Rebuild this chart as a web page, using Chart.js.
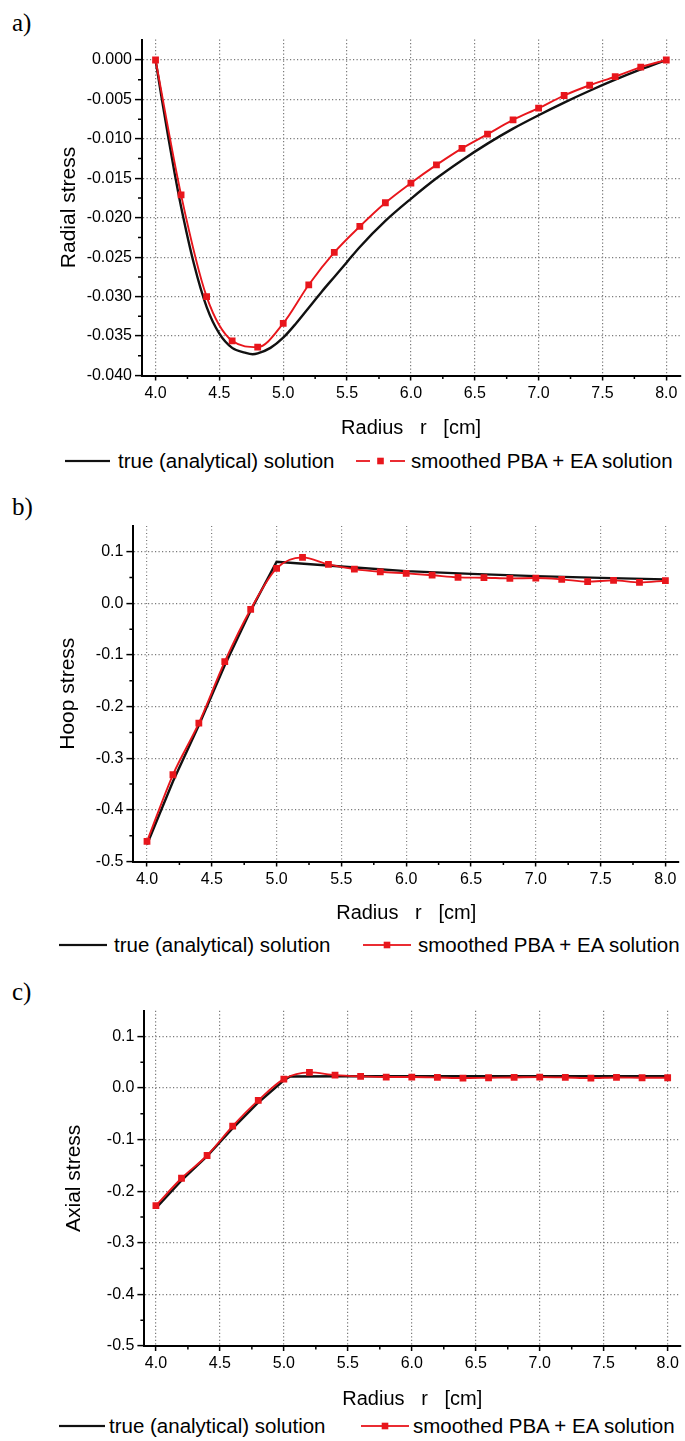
<!DOCTYPE html>
<html>
<head>
<meta charset="utf-8">
<title>Radial, hoop and axial stress</title>
<script src="https://cdn.jsdelivr.net/npm/chart.js@4.4.1/dist/chart.umd.min.js"></script>
<style>
  html, body { margin: 0; padding: 0; background: #fff; }
  body { position: relative; width: 685px; height: 1441px; overflow: hidden; font-family: "Liberation Sans", Arial, sans-serif; color: #000; }
  .plot { position: absolute; left: 0; width: 685px; }
  .tag { position: absolute; left: 12px; font-family: "Liberation Serif", "DejaVu Serif", serif; font-size: 25px; line-height: 26px; }
  .key { position: absolute; font-size: 20.5px; line-height: 24px; white-space: nowrap; }
  .swatch { position: absolute; }
</style>
</head>
<body>
<div class="tag" style="top:10px">a)</div>
<div class="plot" style="top:0;height:440px"><canvas id="radialChart"></canvas></div>

<div class="tag" style="top:494px">b)</div>
<div class="plot" style="top:480px;height:445px"><canvas id="hoopChart"></canvas></div>

<div class="tag" style="top:979px">c)</div>
<div class="plot" style="top:970px;height:441px"><canvas id="axialChart"></canvas></div>

<script>
// radius of the PBA + EA sample points (same for all three panels)
const radius = [4.0, 4.2, 4.4, 4.6, 4.8, 5.0, 5.2, 5.4, 5.6, 5.8, 6.0, 6.2, 6.4, 6.6, 6.8, 7.0, 7.2, 7.4, 7.6, 7.8, 8.0];

// a) radial stress
const radialPBA = [0, -0.0171, -0.0300, -0.0356, -0.0364, -0.0334, -0.0285, -0.0244, -0.0211, -0.0181, -0.0156,
                   -0.0133, -0.0112, -0.0094, -0.0076, -0.0061, -0.0045, -0.0032, -0.0021, -0.0009, 0];
const radialTrueR = [4.0, 4.05, 4.1, 4.15, 4.2, 4.3, 4.4, 4.5, 4.6, 4.7, 4.76, 4.8, 4.9, 5.0, 5.1, 5.2, 5.3, 5.4, 5.5,
                     5.6, 5.8, 6.0, 6.2, 6.4, 6.6, 6.8, 7.0, 7.2, 7.4, 7.6, 7.8, 8.0];
const radialTrue = [0, -0.0050, -0.0098, -0.0144, -0.0186, -0.0258, -0.0313, -0.0347, -0.0365, -0.0371, -0.0373,
                    -0.0372, -0.0365, -0.0352, -0.0334, -0.0314, -0.0294, -0.0275, -0.0256, -0.0237, -0.0204,
                    -0.0176, -0.0150, -0.0127, -0.0106, -0.0087, -0.0070, -0.0054, -0.0039, -0.0025, -0.0012, 0];

// b) hoop stress
const hoopPBA = [-0.461, -0.332, -0.232, -0.113, -0.0116, 0.0677, 0.0890, 0.0754, 0.0663, 0.0611, 0.0580,
                 0.0545, 0.0503, 0.0497, 0.0484, 0.0490, 0.0465, 0.0420, 0.0445, 0.0406, 0.0439];
const hoopTrueR = [4.0, 4.2, 4.4, 4.6, 4.8, 5.0, 5.5, 6.0, 6.5, 7.0, 7.5, 8.0];
const hoopTrue = [-0.467, -0.345, -0.236, -0.120, -0.014, 0.0806, 0.0715, 0.0625, 0.0570, 0.0528, 0.0494, 0.0465];

// c) axial stress
const axialPBA = [-0.2278, -0.1748, -0.1307, -0.0738, -0.0239, 0.0175, 0.0304, 0.0252, 0.0227, 0.0214, 0.0214,
                  0.0206, 0.0194, 0.0200, 0.0206, 0.0213, 0.0206, 0.0194, 0.0206, 0.0200, 0.0200];
const axialTrueR = [4.0, 4.2, 4.4, 4.6, 4.8, 5.0, 5.05, 5.5, 8.0];
const axialTrue = [-0.233, -0.179, -0.132, -0.078, -0.028, 0.015, 0.0225, 0.0228, 0.0228];

// tick values
const xTicks = [4.0, 4.5, 5.0, 5.5, 6.0, 6.5, 7.0, 7.5, 8.0];
const radialTicks = [0, -0.005, -0.010, -0.015, -0.020, -0.025, -0.030, -0.035, -0.040];
const stressTicks = [0.1, 0.0, -0.1, -0.2, -0.3, -0.4, -0.5];

const RED = '#e8161c';
const GRID = '#7a7a7a';
const FONT = '"Liberation Sans", Arial, sans-serif';

const toPoints = (xs, ys) => xs.map((x, i) => ({ x: x, y: ys[i] }));

// small ticks half way between the labelled ones
const minorTicks = {
    id: 'minorTicks',
    afterDraw(chart) {
        const { ctx, scales: { x, y } } = chart;
        ctx.save();
        ctx.strokeStyle = '#000';
        ctx.lineWidth = 1.5;
        ctx.beginPath();
        for (let i = 0; i < x.ticks.length - 1; i++) {
            const px = x.getPixelForValue((x.ticks[i].value + x.ticks[i + 1].value) / 2);
            ctx.moveTo(px, x.top);
            ctx.lineTo(px, x.top + 3.5);
        }
        for (let i = 0; i < y.ticks.length - 1; i++) {
            const py = y.getPixelForValue((y.ticks[i].value + y.ticks[i + 1].value) / 2);
            ctx.moveTo(y.right, py);
            ctx.lineTo(y.right - 4, py);
        }
        ctx.stroke();
        ctx.restore();
    }
};

function makeChart(id, cfg) {
    return new Chart(document.getElementById(id), {
        type: 'line',
        data: {
            datasets: [
                {
                    label: 'smoothed PBA + EA solution',
                    data: toPoints(radius, cfg.pba),
                    borderColor: RED,
                    backgroundColor: RED,
                    borderWidth: 1.9,
                    pointStyle: 'rect',
                    pointRadius: 4.8,
                    pointBorderWidth: 0,
                    pointBackgroundColor: RED,
                    cubicInterpolationMode: 'monotone',
                    order: 1
                },
                {
                    label: 'true (analytical) solution',
                    data: toPoints(cfg.trueR, cfg.trueV),
                    borderColor: '#111',
                    borderWidth: 2.4,
                    pointRadius: 0,
                    tension: 0,
                    cubicInterpolationMode: cfg.smoothTrue ? 'monotone' : 'default',
                    order: 2
                }
            ]
        },
        options: {
            animation: false,
            responsive: true,
            maintainAspectRatio: false,
            layout: { padding: { top: cfg.padTop, right: cfg.padRight, left: 0, bottom: 0 } },
            plugins: { legend: { display: false }, tooltip: { enabled: false } },
            scales: {
                x: {
                    type: 'linear',
                    bounds: 'data',
                    min: cfg.xMin,
                    max: cfg.xMax,
                    afterBuildTicks: s => { s.ticks = xTicks.map(v => ({ value: v })); },
                    afterFit: s => { s.height = cfg.xHeight; },
                    ticks: {
                        callback: v => v.toFixed(1),
                        font: { family: FONT, size: 16 },
                        color: '#000',
                        padding: 3,
                        maxRotation: 0,
                        autoSkip: false
                    },
                    grid: { color: GRID, lineWidth: 1.2, tickColor: '#000', tickLength: 5, tickWidth: 1.5 },
                    border: { color: '#000', width: 2, dash: [1.2, 2.3] },
                    title: {
                        display: true,
                        text: 'Radius   r   [cm]',
                        font: { family: FONT, size: 20 },
                        color: '#000',
                        padding: { top: 0, bottom: 0 }
                    }
                },
                y: {
                    type: 'linear',
                    bounds: 'data',
                    min: cfg.yMin,
                    max: cfg.yMax,
                    afterBuildTicks: s => { s.ticks = cfg.yTicks.map(v => ({ value: v })); },
                    afterFit: s => { s.width = cfg.yWidth; },
                    ticks: {
                        callback: v => v.toFixed(cfg.digits),
                        font: { family: FONT, size: 16 },
                        color: '#000',
                        padding: 3,
                        autoSkip: false
                    },
                    grid: { color: GRID, lineWidth: 1.2, tickColor: '#000', tickLength: 7, tickWidth: 1.5 },
                    border: { color: '#000', width: 2, dash: [1.2, 2.3] },
                    title: {
                        display: true,
                        text: cfg.yTitle,
                        font: { family: FONT, size: 21 },
                        color: '#000',
                        padding: { top: cfg.yTitleX - 12.6, bottom: 0 }
                    }
                }
            }
        },
        plugins: [minorTicks]
    });
}

makeChart('radialChart', {
    pba: radialPBA, trueR: radialTrueR, trueV: radialTrue, smoothTrue: true,
    xMin: 3.894, xMax: 8.109, yMin: -0.040, yMax: 0.0026, yTicks: radialTicks, digits: 3,
    yTitle: 'Radial stress', yTitleX: 69, yWidth: 142, padTop: 39.5, padRight: 0, xHeight: 64.5
});

makeChart('hoopChart', {
    pba: hoopPBA, trueR: hoopTrueR, trueV: hoopTrue, smoothTrue: false,
    xMin: 3.895, xMax: 8.105, yMin: -0.5, yMax: 0.15, yTicks: stressTicks, digits: 1,
    yTitle: 'Hoop stress', yTitleX: 68, yWidth: 133.4, padTop: 45.9, padRight: 6, xHeight: 63.5
});

makeChart('axialChart', {
    pba: axialPBA, trueR: axialTrueR, trueV: axialTrue, smoothTrue: false,
    xMin: 3.91, xMax: 8.098, yMin: -0.5, yMax: 0.15, yTicks: stressTicks, digits: 1,
    yTitle: 'Axial stress', yTitleX: 74, yWidth: 144.4, padTop: 40.7, padRight: 0, xHeight: 65
});

// legend rows under each panel
function drawSwatch(kind, left, top, width) {
    const cv = document.createElement('canvas');
    cv.className = 'swatch';
    cv.width = width;
    cv.height = 12;
    cv.style.left = left + 'px';
    cv.style.top = top + 6 + 'px';
    const c = cv.getContext('2d');
    const m = 6;
    if (kind === 'black') {
        c.fillStyle = '#111';
        c.fillRect(0, m - 1.1, width, 2.2);
    } else {
        c.fillStyle = RED;
        if (kind === 'redDashed') {
            c.fillRect(0, m - 0.9, 14, 1.8);
            c.fillRect(width - 15, m - 0.9, 15, 1.8);
        } else {
            c.fillRect(0, m - 0.9, width, 1.8);
        }
        c.fillRect(width / 2 - 3.3, m - 3.3, 6.6, 6.6);
    }
    document.body.appendChild(cv);
}

function addText(text, left, top) {
    const el = document.createElement('div');
    el.className = 'key';
    el.textContent = text;
    el.style.left = left + 'px';
    el.style.top = top + 'px';
    document.body.appendChild(el);
}

function addLegend(top, redKind, pos) {
    drawSwatch('black', pos[0], top, pos[1]);
    addText('true (analytical) solution', pos[2], top);
    drawSwatch(redKind, pos[3], top, pos[4]);
    addText('smoothed PBA + EA solution', pos[5], top);
}

addLegend(449, 'redDashed', [65, 45, 118, 356, 49, 411]);
addLegend(933, 'red', [59, 48, 114, 363, 48, 418]);
addLegend(1414, 'red', [59, 46, 109, 361, 48, 413]);
</script>
</body>
</html>
